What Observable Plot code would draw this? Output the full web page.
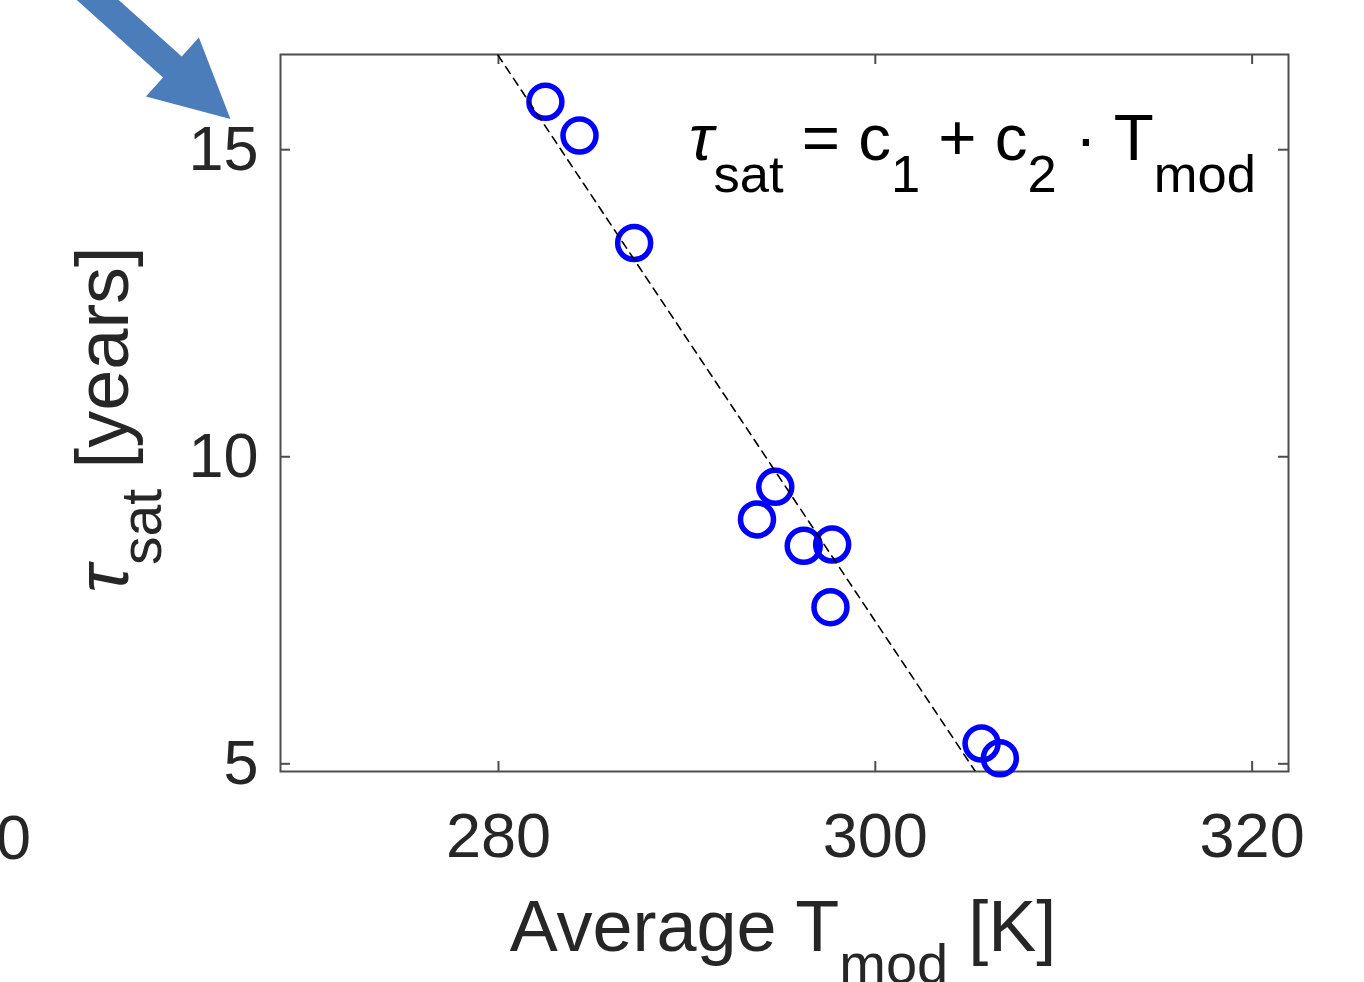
<!DOCTYPE html>
<html>
<head>
<meta charset="utf-8">
<script src="https://cdn.jsdelivr.net/npm/d3@7"></script>
<script src="https://cdn.jsdelivr.net/npm/@observablehq/plot@0.6"></script>
<style>
  html, body { margin: 0; padding: 0; background: #ffffff; }
  #chart { width: 1364px; height: 982px; overflow: hidden; }
</style>
</head>
<body>
<div id="chart"></div>
<script>
// Average module temperature [K] and time to saturation [years] per site
const T_mod   = [282.49, 284.30, 287.20, 294.69, 293.72, 296.20, 297.71, 297.62, 305.64, 306.61];
const tau_sat = [15.78, 15.23, 13.48, 9.51, 8.98, 8.55, 8.57, 7.55, 5.33, 5.09];

// Linear fit tau_sat = c1 + c2 * T_mod
const c1 = 145.41;
const c2 = -0.4603;

// Axis ticks
const xTicks = [280, 300, 320];
const yTicks = [5, 10, 15];
const xDomain = [268.43, 321.93];
const yDomain = [4.875, 16.55];

const points = T_mod.map((t, i) => ({T: t, tau: tau_sat[i]}));
const fitLine = xDomain.map(t => ({T: t, tau: c1 + c2 * t}));

const W = 1364, H = 982;
const mL = 280, mR = 76, mT = 54, mB = 211;
const fw = W - mL - mR, fh = H - mT - mB;
const axisColor = "#4d4d4d";
const textColor = "#262626";
const font = "'Liberation Sans', Arial, Helvetica, sans-serif";

const plot = Plot.plot({
  width: W,
  height: H,
  marginLeft: mL,
  marginRight: mR,
  marginTop: mT,
  marginBottom: mB,
  style: {fontFamily: font, color: textColor, background: "#ffffff", overflow: "visible"},
  x: {domain: xDomain, ticks: xTicks},
  y: {domain: yDomain, ticks: yTicks},
  marks: [
    // inward ticks on all four sides
    Plot.ruleX(xTicks, {x: d => d, insetTop: fh - 10, stroke: axisColor, strokeWidth: 2}),
    Plot.ruleX(xTicks, {x: d => d, insetBottom: fh - 10, stroke: axisColor, strokeWidth: 2}),
    Plot.ruleY(yTicks, {y: d => d, insetRight: fw - 10, stroke: axisColor, strokeWidth: 2}),
    Plot.ruleY(yTicks, {y: d => d, insetLeft: fw - 10, stroke: axisColor, strokeWidth: 2}),
    Plot.frame({stroke: axisColor, strokeWidth: 2}),
    Plot.axisX({ticks: xTicks, tickSize: 0, tickPadding: 41, fontSize: 63, label: null, fill: textColor}),
    Plot.axisY({ticks: yTicks, tickSize: 0, tickPadding: 22, fontSize: 63, label: null, fill: textColor}),
    Plot.dot(points, {x: "T", y: "tau", r: 16.5, stroke: "#0000ff", strokeWidth: 5.5, fill: "none"}),
    Plot.line(fitLine, {x: "T", y: "tau", stroke: "#000000", strokeWidth: 1.6, strokeDasharray: "8,6", clip: true})
  ]
});

document.getElementById("chart").appendChild(plot);

const svg = d3.select(plot);
const xs = plot.scale("x"), ys = plot.scale("y");

// Text with TeX-like subscripts
function richText(sel, parts, size, subSize, shift) {
  let lowered = false;
  parts.forEach(p => {
    const ts = sel.append("tspan").text(p.t);
    if (p.sub && !lowered) { ts.attr("dy", shift); lowered = true; }
    else if (!p.sub && lowered) { ts.attr("dy", -shift); lowered = false; }
    ts.attr("font-size", p.sub ? subSize : size);
    if (p.italic) ts.attr("font-style", "italic");
  });
}

// Fit equation
const eq = svg.append("text")
  .attr("x", 689).attr("y", ys.apply(14.82))
  .attr("text-anchor", "start")
  .attr("fill", "#000000").attr("font-family", font);
richText(eq, [
  {t: "τ", italic: true}, {t: "sat", sub: true},
  {t: " = c"}, {t: "1", sub: true},
  {t: " + c"}, {t: "2", sub: true},
  {t: " · T"}, {t: "mod", sub: true}
], 65.5, 52.5, 32);

// x-axis label
const xl = svg.append("text")
  .attr("x", mL + fw / 2 - 1).attr("y", 951)
  .attr("text-anchor", "middle").attr("fill", textColor).attr("font-family", font);
richText(xl, [{t: "Average T"}, {t: "mod", sub: true}, {t: " [K]"}], 72, 56, 32);

// y-axis label
const yl = svg.append("text")
  .attr("transform", `translate(128,${mT + fh / 2 + 7}) rotate(-90)`)
  .attr("text-anchor", "middle").attr("fill", textColor).attr("font-family", font);
richText(yl, [{t: "τ", italic: true}, {t: "sat", sub: true}, {t: " [years]"}], 74, 57, 33);

// tick label of the neighbouring panel at the left edge
svg.append("text")
  .attr("x", 31).attr("y", 859).attr("text-anchor", "end")
  .attr("font-size", 63).attr("fill", textColor).attr("font-family", font)
  .text("0");

// pointer arrow toward the top of the y axis
const tipX = xs.apply(265.8), tipY = ys.apply(15.49);
const headL = 78, headW = 39.7, shaftW = 14, shaftL = 190;
const arrowPts = [
  [0, 0], [-headL, -headW], [-headL, -shaftW], [-headL - shaftL, -shaftW],
  [-headL - shaftL, shaftW], [-headL, shaftW], [-headL, headW]
];
svg.append("path")
  .attr("d", "M" + arrowPts.map(p => p.join(",")).join("L") + "Z")
  .attr("transform", `translate(${tipX},${tipY}) rotate(41.9)`)
  .attr("fill", "#4a7dba");
</script>
</body>
</html>
